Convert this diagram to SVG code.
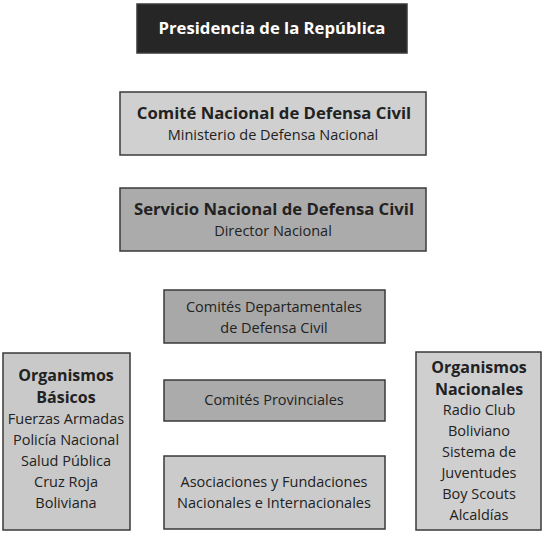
<svg xmlns="http://www.w3.org/2000/svg" width="546" height="533" viewBox="0 0 546 533">
<style>
.box{stroke:#3a3a3a;stroke-width:1.5}
text{font-family:"Open Sans","Noto Sans",sans-serif;fill:#222;text-anchor:middle}
.b{font-weight:700;font-size:16.7px}
.s{font-weight:700;font-size:16px}
.r{font-size:14.5px}
.w{fill:#fff}
</style>
<rect width="546" height="533" fill="#fff"/>
<g id="presidencia">
<rect class="box" x="137" y="4" width="270" height="49" fill="#262626"/>
<text class="b w" x="272" y="34">Presidencia de la República</text>
</g>
<g id="comite">
<rect class="box" x="120" y="92" width="306" height="63" fill="#d0d0d0"/>
<text class="b" x="274" y="119">Comité Nacional de Defensa Civil</text>
<text class="r" x="273" y="140">Ministerio de Defensa Nacional</text>
</g>
<g id="servicio">
<rect class="box" x="120" y="188" width="306" height="63" fill="#ababab"/>
<text class="b" x="274" y="215">Servicio Nacional de Defensa Civil</text>
<text class="r" x="273" y="236">Director Nacional</text>
</g>
<g id="departamentales">
<rect class="box" x="164" y="290" width="221" height="53" fill="#a8a8a8"/>
<text class="r" x="274" y="312">Comités Departamentales</text>
<text class="r" x="274" y="333">de Defensa Civil</text>
</g>
<g id="provinciales">
<rect class="box" x="164" y="380" width="221" height="41" fill="#ababab"/>
<text class="r" x="274" y="405">Comités Provinciales</text>
</g>
<g id="asociaciones">
<rect class="box" x="164" y="456" width="221" height="73" fill="#cbcbcb"/>
<text class="r" x="274" y="487">Asociaciones y Fundaciones</text>
<text class="r" x="274" y="508">Nacionales e Internacionales</text>
</g>
<g id="basicos">
<rect class="box" x="3" y="353" width="127" height="177" fill="#c9c9c9"/>
<text class="s" x="66" y="381">Organismos</text>
<text class="s" x="66" y="403">Básicos</text>
<text class="r" x="66" y="424">Fuerzas Armadas</text>
<text class="r" x="66" y="445">Policía Nacional</text>
<text class="r" x="66" y="466">Salud Pública</text>
<text class="r" x="66" y="487">Cruz Roja</text>
<text class="r" x="66" y="508">Boliviana</text>
</g>
<g id="nacionales">
<rect class="box" x="416" y="352" width="125" height="178" fill="#cfcfcf"/>
<text class="s" x="479" y="373">Organismos</text>
<text class="s" x="479" y="395">Nacionales</text>
<text class="r" x="479" y="415">Radio Club</text>
<text class="r" x="479" y="436">Boliviano</text>
<text class="r" x="479" y="457">Sistema de</text>
<text class="r" x="479" y="478">Juventudes</text>
<text class="r" x="479" y="499">Boy Scouts</text>
<text class="r" x="479" y="520">Alcaldías</text>
</g>
<g id="connectors"/>
</svg>
